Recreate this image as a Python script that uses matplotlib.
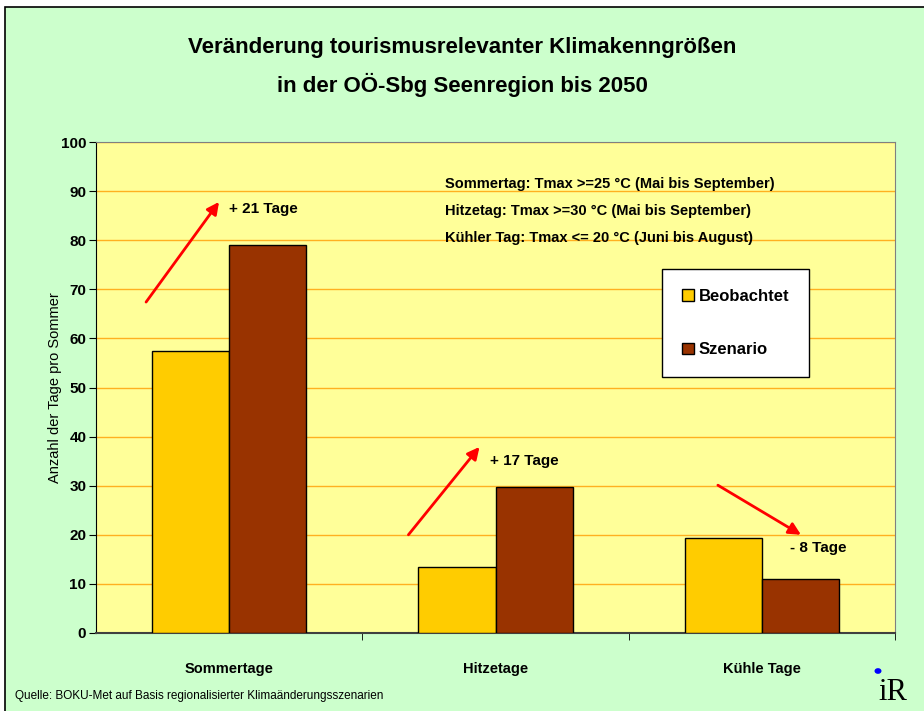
import numpy as np
import matplotlib.pyplot as plt
from matplotlib import patches

categories = ['Sommertage', 'Hitzetage', 'Kühle Tage']
beobachtet = [57.5, 13.4, 19.3]
szenario = [79.1, 29.7, 10.9]
change_labels = ['+ 21 Tage', '+ 17 Tage', '- 8 Tage']
definitions = [
    'Sommertag: Tmax >=25 °C (Mai bis September)',
    'Hitzetag: Tmax >=30 °C (Mai bis September)',
    'Kühler Tag: Tmax <= 20 °C (Juni bis August)',
]
yticks = np.arange(0, 101, 10)

plt.rcParams['font.family'] = ['Liberation Sans', 'DejaVu Sans']

fig = plt.figure(figsize=(9.24, 7.11), dpi=100)
fig.patch.set_facecolor('white')
# green panel with black left/top border
fig.add_artist(patches.Rectangle((5/924, -0.1), 1.2, (711-7)/711 + 0.1,
                                 transform=fig.transFigure, facecolor='#CCFFCC',
                                 edgecolor='black', lw=1.2, zorder=-10))

ax = fig.add_axes([96/924, (711-633)/711, (895-96)/924, 491/711])
ax.set_facecolor('#FFFF99')

x = np.arange(len(categories))
w = 0.29
ax.bar(x - w/2, beobachtet, w, color='#FFCC00', edgecolor='black', lw=1, label='Beobachtet', zorder=3)
ax.bar(x + w/2, szenario, w, color='#993300', edgecolor='black', lw=1, label='Szenario', zorder=3)

ax.set_xlim(-0.5, 2.5)
ax.set_ylim(0, 100)
ax.set_yticks(yticks)
ax.set_yticklabels([str(t) for t in yticks], fontsize=11, fontweight='bold')
ax.yaxis.grid(True, color='#FFB020', lw=1)
ax.set_axisbelow(True)
ax.set_xticks(x)
ax.set_xticklabels(categories, fontsize=10.5, fontweight='bold')
ax.tick_params(axis='x', length=0, pad=21)
ax.set_xticks([0.5, 1.5, 2.5], minor=True)
ax.tick_params(axis='x', which='minor', length=5, color='black', direction='out')
ax.tick_params(axis='y', length=5, direction='out', pad=2)
for s in ['top', 'right']:
    ax.spines[s].set_color('#808080')
ax.spines['left'].set_color('black')
ax.spines['bottom'].set_color('#404040')
ax.spines['bottom'].set_linewidth(1.5)

ax.set_ylabel('Anzahl der Tage pro Sommer', fontsize=10.5, labelpad=-1)

# arrows and change labels (offsets relative to category index)
arrows = [((-0.312, 67.4), (-0.038, 87.8)),
          ((-0.327, 20.0), (-0.06, 37.9)),
          ((-0.165, 30.1), (0.147, 20.0))]
label_pos = [(0.0, 86.4), (-0.02, 35.0), (0.105, 17.3)]
for i in range(len(categories)):
    (x0, y0), (x1, y1) = arrows[i]
    ax.annotate('', xy=(i + x1, y1), xytext=(i + x0, y0),
                arrowprops=dict(arrowstyle='-|>', color='red', lw=2,
                                mutation_scale=18, shrinkA=0, shrinkB=0), zorder=5)
    lx, ly = label_pos[i]
    ax.text(i + lx, ly, change_labels[i], fontsize=11, fontweight='bold',
            ha='left', va='center', zorder=5)

for k, d in enumerate(definitions):
    ax.text((445-96)/799, (633-184-27*k)/491, d, transform=ax.transAxes,
            fontsize=10.5, fontweight='bold', ha='left', va='center')

leg = ax.legend(loc='upper left', bbox_to_anchor=((662-96)/799, (633-269)/491),
                fontsize=12, frameon=True, fancybox=False, edgecolor='black',
                facecolor='white', framealpha=1, handlelength=0.7, handleheight=0.7,
                handletextpad=0.3, labelspacing=2.3, borderpad=1.2, borderaxespad=0)
leg.get_frame().set_linewidth(1)
for t in leg.get_texts():
    t.set_fontweight('bold')

fig.text(0.5, 1 - 48/711, 'Veränderung tourismusrelevanter Klimakenngrößen',
         ha='center', va='center', fontsize=16, fontweight='bold')
fig.text(0.5, 1 - 85/711, 'in der OÖ-Sbg Seenregion bis 2050',
         ha='center', va='center', fontsize=16, fontweight='bold')
fig.text(15/924, 1 - 696/711,
         'Quelle: BOKU-Met auf Basis regionalisierter Klimaänderungsszenarien',
         ha='left', va='center', fontsize=8.5)

# small logo
fig.text(893/924, 1 - 692/711, 'iR', ha='center', va='center', fontsize=22,
         family='Liberation Serif', color='black')
fig.add_artist(patches.Circle((878/924, 1 - 671/711), 0.003, transform=fig.transFigure,
                              color='blue'))

fig.savefig('out.png', dpi=100)
